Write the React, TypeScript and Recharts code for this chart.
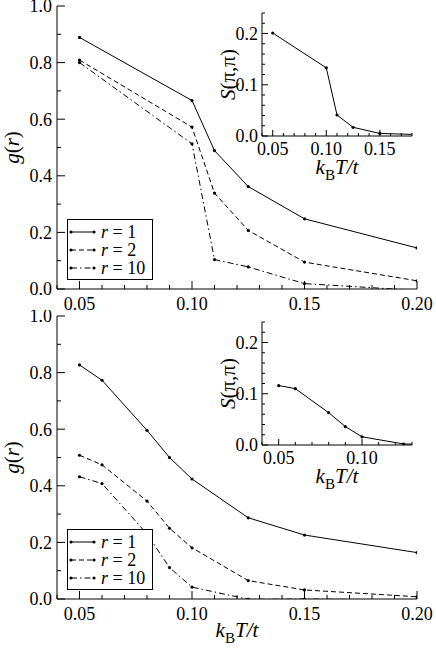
import { LineChart, Line, XAxis, YAxis, Legend } from 'recharts';

const FONT = 'Liberation Serif, Times New Roman, serif';

// upper panel: g(r) against k_B T / t
const upperTemps = [0.05, 0.1, 0.11, 0.125, 0.15, 0.2];
const upperR1 = [0.889, 0.666, 0.489, 0.362, 0.248, 0.145];
const upperR2 = [0.809, 0.572, 0.339, 0.207, 0.095, 0.029];
const upperR10 = [0.8, 0.513, 0.104, 0.078, 0.019, -0.005];

// upper inset: S(pi,pi)
const upperInsetTemps = [0.05, 0.1, 0.11, 0.125, 0.15, 0.2];
const upperInsetS = [0.201, 0.133, 0.041, 0.017, 0.005, 0.002];

// lower panel
const lowerTemps = [0.05, 0.06, 0.08, 0.09, 0.1, 0.125, 0.15, 0.2];
const lowerR1 = [0.827, 0.773, 0.596, 0.5, 0.424, 0.287, 0.226, 0.164];
const lowerR2 = [0.508, 0.474, 0.346, 0.25, 0.181, 0.065, 0.032, 0.008];
const lowerR10 = [0.432, 0.408, 0.23, 0.111, 0.042, -0.001, 0.0, -0.003];

// lower inset
const lowerInsetTemps = [0.05, 0.06, 0.08, 0.09, 0.1, 0.125, 0.15];
const lowerInsetS = [0.116, 0.11, 0.063, 0.036, 0.016, 0.002, 0.001];

// ticks (major + minor)
const mainXTicks = [0.04, 0.05, 0.06, 0.07, 0.08, 0.09, 0.1, 0.11, 0.12, 0.13, 0.14, 0.15, 0.16, 0.17, 0.18, 0.19, 0.2];
const mainYTicks = [0, 0.1, 0.2, 0.3, 0.4, 0.5, 0.6, 0.7, 0.8, 0.9, 1.0];
const upperInsetXTicks = [0.04, 0.05, 0.06, 0.07, 0.08, 0.09, 0.1, 0.11, 0.12, 0.13, 0.14, 0.15, 0.16, 0.17, 0.18];
const lowerInsetXTicks = [0.04, 0.05, 0.06, 0.07, 0.08, 0.09, 0.1, 0.11, 0.12, 0.13];
const insetYTicks = [0, 0.02, 0.04, 0.06, 0.08, 0.1, 0.12, 0.14, 0.16, 0.18, 0.2, 0.22, 0.24];

const series = [
  { key: 'r1', r: '1', dash: undefined },
  { key: 'r2', r: '2', dash: '5 3' },
  { key: 'r10', r: '10', dash: '6 3 1.5 3' },
];

const upperData = upperTemps.map((t, i) => ({ t, r1: upperR1[i], r2: upperR2[i], r10: upperR10[i] }));
const lowerData = lowerTemps.map((t, i) => ({ t, r1: lowerR1[i], r2: lowerR2[i], r10: lowerR10[i] }));
const upperInsetData = upperInsetTemps.map((t, i) => ({ t, s: upperInsetS[i] }));
const lowerInsetData = lowerInsetTemps.map((t, i) => ({ t, s: lowerInsetS[i] }));

const textStyle = { fontFamily: FONT };

// inward ticks on every side, labels only bottom/left
function frameTick(side: string, majorStep: number, digits: number, len: number, gap: number, fontSize: number) {
  return function Tick(props: any) {
    const { x, y, payload } = props;
    const v = payload.value;
    const q = v / majorStep;
    const major = Math.abs(q - Math.round(q)) < 1e-6;
    const l = major ? len : len / 2;
    let line = null;
    let label = null;
    if (side === 'bottom') {
      line = <line x1={x} y1={y} x2={x} y2={y - l} stroke="#000" />;
      if (major)
        label = (
          <text x={x} y={y + gap} textAnchor="middle" style={textStyle} fontSize={fontSize} fill="#000">
            {v.toFixed(digits)}
          </text>
        );
    } else if (side === 'top') {
      line = <line x1={x} y1={y} x2={x} y2={y + l} stroke="#000" />;
    } else if (side === 'left') {
      line = <line x1={x} y1={y} x2={x + l} y2={y} stroke="#000" />;
      if (major)
        label = (
          <text x={x - gap} y={y} dy="0.36em" textAnchor="end" style={textStyle} fontSize={fontSize} fill="#000">
            {v.toFixed(digits)}
          </text>
        );
    } else {
      line = <line x1={x} y1={y} x2={x - l} y2={y} stroke="#000" />;
    }
    return (
      <g>
        {line}
        {label}
      </g>
    );
  };
}

const MainBottomTick = frameTick('bottom', 0.05, 2, 8, 21, 18);
const MainTopTick = frameTick('top', 0.05, 2, 8, 0, 18);
const MainLeftTick = frameTick('left', 0.2, 1, 8, 5, 18);
const MainRightTick = frameTick('right', 0.2, 1, 8, 0, 18);
const InsetBottomTick = frameTick('bottom', 0.05, 2, 6, 19, 18);
const InsetTopTick = frameTick('top', 0.05, 2, 6, 0, 18);
const InsetLeftTick = frameTick('left', 0.1, 1, 6, 4, 18);
const InsetRightTick = frameTick('right', 0.1, 1, 6, 0, 18);

function TempTitle({ viewBox, size }: any) {
  if (!viewBox) return null;
  const cx = viewBox.x + viewBox.width / 2;
  const y = viewBox.y + 38;
  return (
    <text x={cx} y={y} textAnchor="middle" style={textStyle} fontSize={size} fill="#000">
      <tspan fontStyle="italic">k</tspan>
      <tspan fontSize={size * 0.72} dy={size * 0.28}>B</tspan>
      <tspan fontStyle="italic" dy={-size * 0.28}>T/t</tspan>
    </text>
  );
}

function GTitle({ viewBox }: any) {
  if (!viewBox) return null;
  const x = 13;
  const y = viewBox.y + viewBox.height / 2;
  return (
    <text x={x} y={y} transform={`rotate(-90 ${x} ${y})`} textAnchor="middle" dy="0.3em" style={textStyle} fontSize={21} fill="#000">
      <tspan fontStyle="italic">g</tspan>(<tspan fontStyle="italic">r</tspan>)
    </text>
  );
}

function STitle({ viewBox }: any) {
  if (!viewBox) return null;
  const x = viewBox.x + 29;
  const y = viewBox.y + viewBox.height / 2;
  return (
    <text x={x} y={y} transform={`rotate(-90 ${x} ${y})`} textAnchor="middle" dy="0.3em" style={textStyle} fontSize={21} fill="#000">
      <tspan fontStyle="italic">S</tspan>(π,π)
    </text>
  );
}

function LegendBox() {
  return (
    <svg width={84} height={59} style={{ display: 'block' }}>
      {series.map((s, i) => {
        const y = 12 + i * 18;
        return (
          <g key={s.key}>
            <line x1={3} y1={y} x2={26} y2={y} stroke="#000" strokeDasharray={s.dash} />
            <circle cx={3} cy={y} r={1.6} fill="#000" />
            <circle cx={26} cy={y} r={1.6} fill="#000" />
            <text x={33} y={y} dy="0.33em" style={textStyle} fontSize={18} fill="#000">
              <tspan fontStyle="italic">r</tspan> = {s.r}
            </text>
          </g>
        );
      })}
    </svg>
  );
}

function MainPanel({ data, height, xAxisHeight, showTitle }: any) {
  return (
    <LineChart width={436} height={height} data={data} margin={{ top: 6, right: 19, bottom: 0, left: 7 }}>
      <XAxis
        type="number"
        dataKey="t"
        domain={[0.04, 0.2]}
        ticks={mainXTicks}
        interval={0}
        allowDataOverflow
        height={xAxisHeight}
        tick={MainBottomTick}
        tickLine={false}
        tickSize={0}
        tickMargin={0}
        axisLine={{ stroke: '#000' }}
        label={showTitle ? { content: (p: any) => <TempTitle viewBox={p.viewBox} size={21} /> } : undefined}
      />
      <XAxis
        xAxisId="top"
        orientation="top"
        type="number"
        domain={[0.04, 0.2]}
        ticks={mainXTicks}
        interval={0}
        allowDataOverflow
        height={0}
        tick={MainTopTick}
        tickLine={false}
        tickSize={0}
        tickMargin={0}
        axisLine={{ stroke: '#000' }}
      />
      <YAxis
        type="number"
        domain={[0, 1]}
        ticks={mainYTicks}
        interval={0}
        allowDataOverflow
        width={50}
        tick={MainLeftTick}
        tickLine={false}
        tickSize={0}
        tickMargin={0}
        axisLine={{ stroke: '#000' }}
        label={{ content: (p: any) => <GTitle viewBox={p.viewBox} /> }}
      />
      <YAxis
        yAxisId="right"
        orientation="right"
        type="number"
        domain={[0, 1]}
        ticks={mainYTicks}
        interval={0}
        allowDataOverflow
        width={0}
        tick={MainRightTick}
        tickLine={false}
        tickSize={0}
        tickMargin={0}
        axisLine={{ stroke: '#000' }}
      />
      {series.map((s) => (
        <Line
          key={s.key}
          type="linear"
          dataKey={s.key}
          stroke="#000"
          strokeWidth={1}
          strokeDasharray={s.dash}
          dot={{ r: 1.6, fill: '#000', stroke: '#000', strokeWidth: 0 }}
          activeDot={false}
          isAnimationActive={false}
        />
      ))}
      <Legend
        layout="horizontal"
        verticalAlign="middle"
        align="center"
        content={() => <LegendBox />}
        wrapperStyle={{ left: 67, top: 219, width: 86, height: 61, border: '1px solid #000', background: '#fff', boxSizing: 'border-box' }}
      />
    </LineChart>
  );
}

function InsetPanel({ data, xMax, xTicks }: any) {
  return (
    <LineChart width={236} height={200} data={data} margin={{ top: 13, right: 24, bottom: 0, left: 0 }}>
      <XAxis
        type="number"
        dataKey="t"
        domain={[0.04, xMax]}
        ticks={xTicks}
        interval={0}
        allowDataOverflow
        height={64}
        tick={InsetBottomTick}
        tickLine={false}
        tickSize={0}
        tickMargin={0}
        axisLine={{ stroke: '#000' }}
        label={{ content: (p: any) => <TempTitle viewBox={p.viewBox} size={21} /> }}
      />
      <XAxis
        xAxisId="top"
        orientation="top"
        type="number"
        domain={[0.04, xMax]}
        ticks={xTicks}
        interval={0}
        allowDataOverflow
        height={0}
        tick={InsetTopTick}
        tickLine={false}
        tickSize={0}
        tickMargin={0}
        axisLine={{ stroke: '#000' }}
      />
      <YAxis
        type="number"
        domain={[0, 0.24]}
        ticks={insetYTicks}
        interval={0}
        allowDataOverflow
        width={62}
        tick={InsetLeftTick}
        tickLine={false}
        tickSize={0}
        tickMargin={0}
        axisLine={{ stroke: '#000' }}
        label={{ content: (p: any) => <STitle viewBox={p.viewBox} /> }}
      />
      <YAxis
        yAxisId="right"
        orientation="right"
        type="number"
        domain={[0, 0.24]}
        ticks={insetYTicks}
        interval={0}
        allowDataOverflow
        width={0}
        tick={InsetRightTick}
        tickLine={false}
        tickSize={0}
        tickMargin={0}
        axisLine={{ stroke: '#000' }}
      />
      <Line
        type="linear"
        dataKey="s"
        stroke="#000"
        strokeWidth={1}
        dot={{ r: 1.6, fill: '#000', stroke: '#000', strokeWidth: 0 }}
        activeDot={false}
        isAnimationActive={false}
      />
    </LineChart>
  );
}

export default function App() {
  return (
    <div style={{ position: 'absolute', left: 0, top: 0, width: 436, height: 651, background: '#fff' }}>
      <div style={{ position: 'absolute', left: 0, top: 0 }}>
        <MainPanel data={upperData} height={316} xAxisHeight={27} showTitle={false} />
      </div>
      <div style={{ position: 'absolute', left: 0, top: 310 }}>
        <MainPanel data={lowerData} height={341} xAxisHeight={52} showTitle />
      </div>
      <div style={{ position: 'absolute', left: 200, top: 0 }}>
        <InsetPanel data={upperInsetData} xMax={0.18} xTicks={upperInsetXTicks} />
      </div>
      <div style={{ position: 'absolute', left: 200, top: 309 }}>
        <InsetPanel data={lowerInsetData} xMax={0.13} xTicks={lowerInsetXTicks} />
      </div>
    </div>
  );
}
